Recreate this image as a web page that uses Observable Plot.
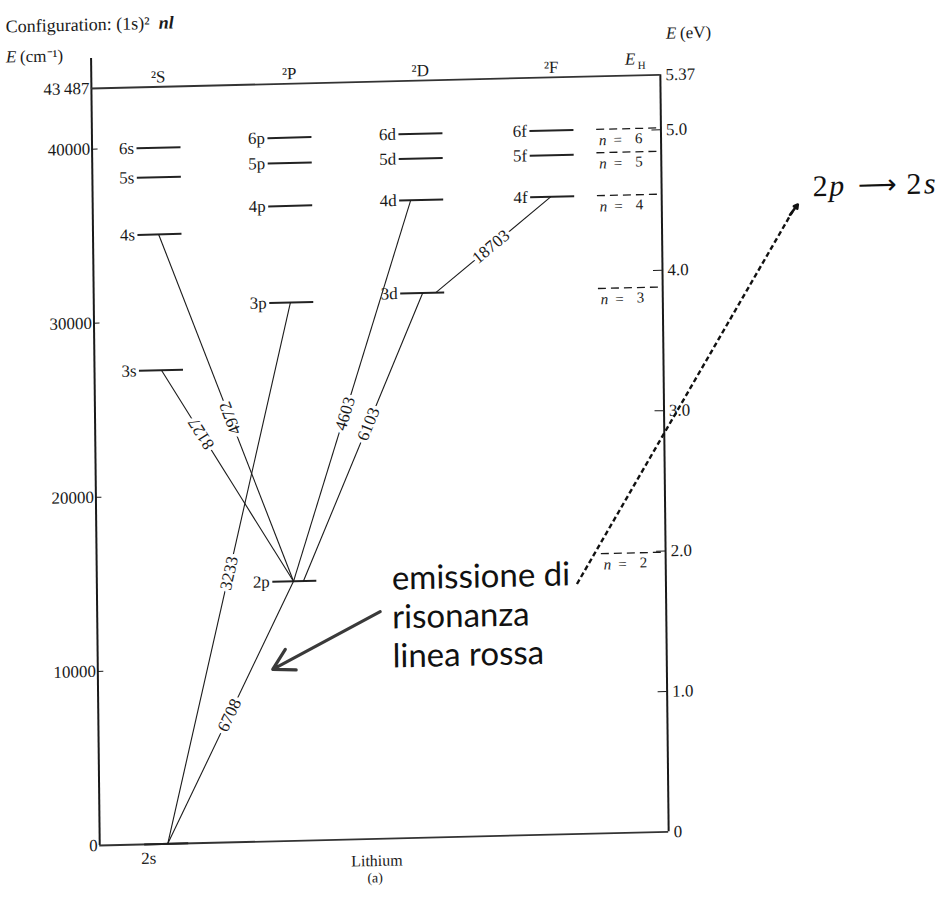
<!DOCTYPE html>
<html>
<head>
<meta charset="utf-8">
<script src="https://cdn.jsdelivr.net/npm/d3@7"></script>
<script src="https://cdn.jsdelivr.net/npm/@observablehq/plot@0.6"></script>
<style>
  body { margin: 0; background: #fff; }
  #chart { width: 946px; height: 917px; }
</style>
</head>
<body>
<div id="chart"></div>
<script>
// ---------------- data ----------------
const termLabels = ["²S", "²P", "²D", "²F"];
const termCols = [0, 1, 2, 3];

// Lithium levels, term value E in cm^-1
const levelNames  = ["2s","3s","4s","5s","6s","2p","3p","4p","5p","6p","3d","4d","5d","6d","4f","5f","6f"];
const levelEnergy = [0, 27206, 35012, 38299, 39988, 14904, 30925, 36470, 38936, 40390, 31283, 36623, 39015, 40437, 36630, 39018, 40439];

// hydrogen-like reference levels (E_H scale)
const hydrogenN      = [2, 3, 4, 5, 6];
const hydrogenEnergy = [16067, 31301, 36632, 39100, 40440];

// transitions, wavelength in Angstrom
const lineWavelengths = ["8127", "4972", "3233", "4603", "6103", "18703", "6708"];
const lineUpper       = ["3s",   "4s",   "3p",   "4d",   "3d",   "4f",    "2p"];
const lineLower       = ["2p",   "2p",   "2s",   "2p",   "2p",   "3d",    "2s"];
const lineUpperOffset = [0.0,  -0.01, -0.01, -0.084, 0.0,  -0.015, -0.01];
const lineLowerOffset = [-0.01, -0.01, 0.008, -0.01,  0.066, 0.10,   0.008];
const lineLabelAt     = [0.30,  0.53,  0.50,  0.56,   0.455, 0.52,   0.51];

// axes
const cmTicks      = [0, 10000, 20000, 30000, 40000, 43487];
const cmTickLabels = ["0", "10000", "20000", "30000", "40000", "43\u2009487"];
const eVTicks      = [0, 1, 2, 3, 4, 5];
const eVTickLabels = ["0", "1.0", "2.0", "3.0", "4.0", "5.0"];
const ionizationEV = "5.37";
const ionizationE  = 43487;
const cmPerEV = 8065.5;

// ---------------- layout ----------------
const W = 946, H = 917;
const X0 = 162, COL = 131;          // px of column 0, px per column
const Y0 = 845, PX_PER_CM = 0.017408;
const xDomain = [(0 - X0) / COL, (W - X0) / COL];
const yDomain = [(Y0 - H) / PX_PER_CM, Y0 / PX_PER_CM];
const xs = d3.scaleLinear(xDomain, [0, W]);
const ys = d3.scaleLinear(yDomain, [H, 0]);
const axisL = -0.511, axisR = 3.832, colH = 3.54, half = 0.168;
const px = (p) => p / COL;
const colOf = {s: 0, p: 1, d: 2, f: 3};

const levels = levelNames.map((name, i) => ({name, E: levelEnergy[i], col: colOf[name.slice(-1)]}));
const levelByName = new Map(levels.map(d => [d.name, d]));
const hLevels = hydrogenN.map((n, i) => ({n, E: hydrogenEnergy[i]}));

const transitions = lineWavelengths.map((w, i) => {
  const u = levelByName.get(lineUpper[i]), l = levelByName.get(lineLower[i]);
  const x1 = u.col + lineUpperOffset[i], y1 = u.E;
  const x2 = l.col + lineLowerOffset[i], y2 = l.E;
  const t = lineLabelAt[i];
  const ang = Math.atan2(ys(y1) - ys(y2), xs(x1) - xs(x2)) * 180 / Math.PI;
  return {w, x1, y1, x2, y2, lx: x1 + t * (x2 - x1), ly: y1 + t * (y2 - y1), ang};
});

const cmTickData = cmTicks.map((v, i) => ({v, label: cmTickLabels[i]}));
const eVTickData = eVTicks.map((v, i) => ({E: v * cmPerEV, label: eVTickLabels[i]}))
  .concat([{E: ionizationE, label: ionizationEV}]);

// annotations (data coordinates: column, cm^-1)
const annotText = [{x: 1.740, E: 15878, text: "emissione di\nrisonanza\nlinea rossa"}];
const resonanceArrow = [{x1: 1.649, y1: 13040, x2: 0.824, y2: 9880}];
const transArrow = [{x1: 3.153, y1: 14361, x2: 4.870, y2: 35846}];

const serif = "Liberation Serif, Times New Roman, serif";
const ink = "#1a1a1a";
const A = "annotation";

const chart = Plot.plot({
  width: W, height: H, margin: 0,
  x: {domain: xDomain, axis: null},
  y: {domain: yDomain, axis: null},
  style: {fontFamily: serif, fontSize: "16px", background: "#fff", color: ink, overflow: "visible"},
  marks: [
    // frame / axes
    Plot.ruleX([axisL], {x: d => d, y1: 0, y2: 45210, stroke: ink, strokeWidth: 2}),
    Plot.ruleX([axisR], {x: d => d, y1: 0, y2: ionizationE, stroke: ink, strokeWidth: 2}),
    Plot.ruleY([ionizationE], {y: d => d, x1: axisL, x2: axisR, stroke: "#333", strokeWidth: 1.8}),
    Plot.ruleY([0], {y: d => d, x1: axisL, x2: axisR, stroke: "#333", strokeWidth: 1.8}),
    Plot.ruleY(cmTickData.filter(d => d.v > 0 && d.v < ionizationE), {y: "v", x1: axisL, x2: axisL + px(6), stroke: ink, strokeWidth: 1}),
    Plot.text(cmTickData, {x: axisL, y: "v", text: "label", textAnchor: "end", dx: -2, fontSize: 17, fill: ink}),
    Plot.ruleY(eVTickData.filter(d => d.E > 0 && d.E < ionizationE), {y: "E", x1: axisR - px(9), x2: axisR, stroke: ink, strokeWidth: 1}),
    Plot.text(eVTickData, {x: axisR, y: "E", text: "label", textAnchor: "start", dx: 5, fontSize: 17, fill: ink}),
    // term headers
    Plot.text(termLabels, {x: (d, i) => termCols[i], y: 44060, text: d => d, fontSize: 17, fill: ink}),
    // levels
    Plot.ruleY(levels, {y: "E", x1: d => d.col - half, x2: d => d.col + half, stroke: "#222", strokeWidth: 2}),
    Plot.text(levels.filter(d => d.name !== "2s"), {x: d => d.col - half, y: "E", text: "name", textAnchor: "end", dx: -3, fontSize: 17, fill: ink}),
    Plot.text(levels.filter(d => d.name === "2s"), {x: "col", y: "E", text: "name", dx: -18, dy: 14, fontSize: 17, fill: ink}),
    // hydrogen levels
    Plot.ruleY(hLevels, {y: "E", x1: colH - px(26), x2: axisR, stroke: ink, strokeWidth: 1.3, strokeDasharray: "8,5"}),
    Plot.text(hLevels, {x: colH, y: "E", text: () => "n", dx: -20, dy: 11, fontSize: 15, fontStyle: "italic", fill: ink}),
    Plot.text(hLevels, {x: colH, y: "E", text: () => "=", dx: -5, dy: 11, fontSize: 15, fill: ink}),
    Plot.text(hLevels, {x: colH, y: "E", text: d => String(d.n), dx: 16, dy: 10, fontSize: 15, fill: ink}),
    // transitions
    Plot.link(transitions, {x1: "x1", y1: "y1", x2: "x2", y2: "y2", stroke: ink, strokeWidth: 1.1}),
    Plot.text(transitions, {x: "lx", y: "ly", text: "w", rotate: "ang", fontSize: 17, fill: ink,
      stroke: "#fff", strokeWidth: 7, paintOrder: "stroke"}),

    // ---------- annotations (not skewed) ----------
    Plot.text(["Configuration: (1s)²"], {x: -1.160, y: 47151, text: d => d, textAnchor: "start", fontSize: 18, fill: ink, ariaLabel: A}),
    Plot.text(["nl"], {x: 0.008, y: 47151, text: d => d, textAnchor: "start", fontSize: 18, fontStyle: "italic", fontWeight: "bold", fill: ink, ariaLabel: A}),
    Plot.text(["E"], {x: -1.160, y: 45404, text: d => d, textAnchor: "start", fontSize: 17, fontStyle: "italic", fill: ink, ariaLabel: A}),
    Plot.text(["(cm⁻¹)"], {x: -1.053, y: 45404, text: d => d, textAnchor: "start", fontSize: 17, fill: ink, ariaLabel: A}),
    Plot.text(["E"], {x: 3.878, y: 45863, text: d => d, textAnchor: "start", fontSize: 17, fontStyle: "italic", fill: ink, ariaLabel: A}),
    Plot.text(["(eV)"], {x: 3.985, y: 45863, text: d => d, textAnchor: "start", fontSize: 17, fill: ink, ariaLabel: A}),
    Plot.text(["E"], {x: 3.603, y: 44427, text: d => d, fontSize: 17, fontStyle: "italic", fill: ink, ariaLabel: A}),
    Plot.text(["H"], {x: 3.690, y: 44048, text: d => d, fontSize: 11, fill: ink, ariaLabel: A}),
    Plot.text(["Lithium"], {x: 1.603, y: -1264, text: d => d, fontSize: 16, fill: ink, ariaLabel: A}),
    Plot.text(["(a)"], {x: 1.588, y: -2240, text: d => d, fontSize: 14, fill: ink, ariaLabel: A}),
    Plot.text(annotText, {x: "x", y: "E", text: "text", textAnchor: "start", lineAnchor: "top", lineHeight: 1.18,
      fontFamily: "Lato, Open Sans, sans-serif", fontSize: 33, fill: "#111", ariaLabel: A}),
    Plot.arrow(resonanceArrow, {x1: "x1", y1: "y1", x2: "x2", y2: "y2", stroke: "#3a3a3a", strokeWidth: 3.2, headLength: 11, ariaLabel: A}),
    Plot.link(transArrow, {x1: "x1", y1: "y1", x2: d => d.x2 - 0.04, y2: d => d.y2 - 380, stroke: "#111", strokeWidth: 2.4, strokeDasharray: "5,3", ariaLabel: A}),
    Plot.arrow(transArrow, {x1: d => d.x2 - 0.06, y1: d => d.y2 - 570, x2: "x2", y2: "y2", stroke: "#111", strokeWidth: 2.6, headLength: 10, ariaLabel: A}),
    Plot.text(["2"], {x: 4.985, y: 36856, text: d => d, textAnchor: "start", fontSize: 30, fill: "#111", ariaLabel: A}),
    Plot.text(["p"], {x: 5.110, y: 36856, text: d => d, textAnchor: "start", fontSize: 30, fontStyle: "italic", fill: "#111", ariaLabel: A}),
    Plot.text(["⟶"], {x: 5.330, y: 36856, text: d => d, textAnchor: "start", fontSize: 27, fontFamily: "DejaVu Sans, sans-serif", fill: "#111", ariaLabel: A}),
    Plot.text(["2"], {x: 5.700, y: 36856, text: d => d, textAnchor: "start", fontSize: 30, fill: "#111", ariaLabel: A}),
    Plot.text(["s"], {x: 5.835, y: 36856, text: d => d, textAnchor: "start", fontSize: 30, fontStyle: "italic", fill: "#111", ariaLabel: A})
  ]
});

// the printed diagram is slightly skewed on the scanned page: skew every non-annotation mark
const K = -0.024, M = 0.011;
const wrap = document.createElementNS("http://www.w3.org/2000/svg", "g");
wrap.setAttribute("transform", `matrix(1,${K},${M},1,${-M * 466},${-K * 95})`);
const groups = Array.from(chart.children).filter(g => g.tagName.toLowerCase() === "g" && g.getAttribute("aria-label") !== A);
if (groups.length) {
  chart.insertBefore(wrap, groups[0]);
  groups.forEach(g => wrap.appendChild(g));
}
document.getElementById("chart").appendChild(chart);
</script>
</body>
</html>
